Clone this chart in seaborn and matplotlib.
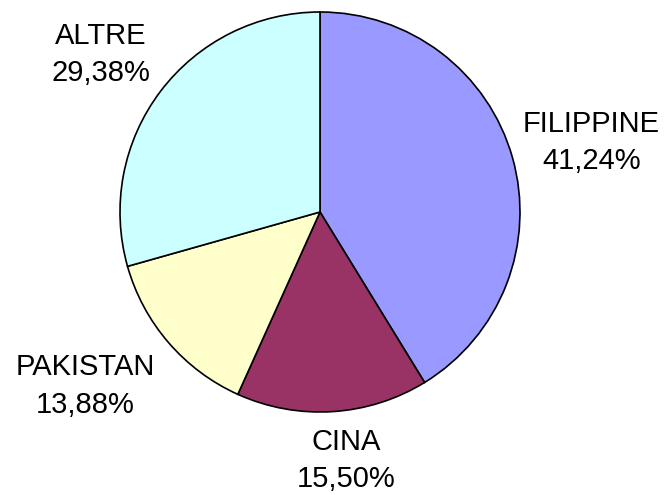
import numpy as np
import seaborn as sns
import matplotlib.pyplot as plt

sns.set_theme(style="white")
plt.rcParams['font.family'] = ['Liberation Sans', 'DejaVu Sans']

# dati
paesi = ['FILIPPINE', 'CINA', 'PAKISTAN', 'ALTRE']
percentuali = [41.24, 15.50, 13.88, 29.38]
colori = ['#9999FF', '#993366', '#FFFFCC', '#CCFFFF']

fig = plt.figure(figsize=(6.64, 4.95), dpi=100)
ax = fig.add_axes([0, 0, 1, 1])

wedges, _ = ax.pie(percentuali, colors=colori, startangle=90, counterclock=False,
                   radius=1, wedgeprops={'edgecolor': 'black', 'linewidth': 1.2})

# posizione delle etichette: distanza dal centro (in raggi) e piccola correzione dell'angolo
dist = [1.40, 1.25, 1.46, 1.35]
delta = [-1.4, 2.4, -4.2, 1.5]
for w, nome, p, d, da in zip(wedges, paesi, percentuali, dist, delta):
    ang = np.deg2rad((w.theta1 + w.theta2) / 2 + da)
    testo = f"{nome}\n{p:.2f}%".replace('.', ',')
    ax.text(d * np.cos(ang), d * np.sin(ang), testo, ha='center', va='center',
            fontsize=21, color='black', linespacing=1.42)

ax.set_xlim(-1.6, 1.72)
ax.set_ylim(-1.415, 1.06)
ax.set_aspect('auto')
ax.axis('off')

plt.savefig('out.png', dpi=100)
